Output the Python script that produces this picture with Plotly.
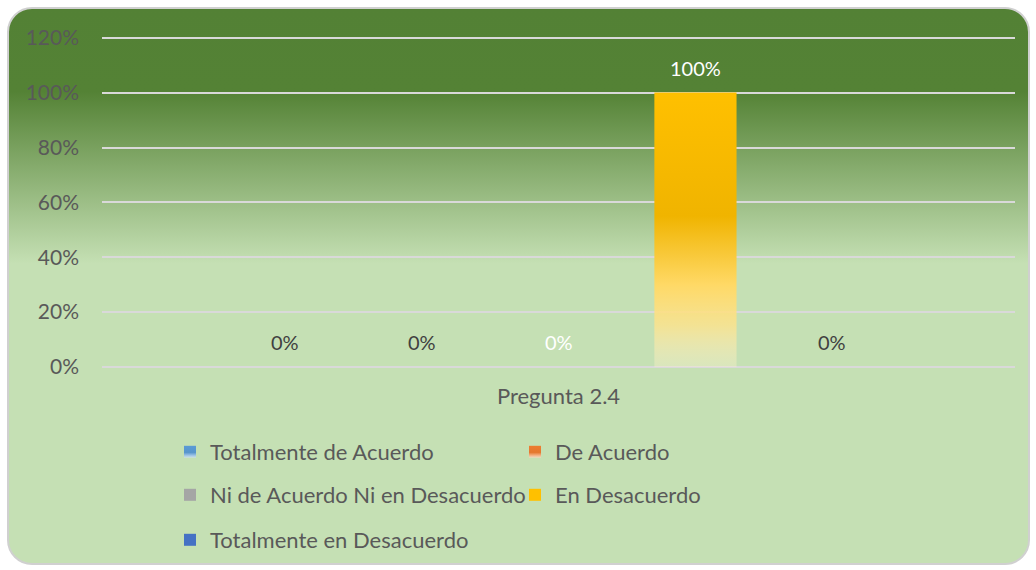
import base64
import json
import plotly.graph_objects as go

# Chart data
categories = ["Pregunta 2.4"]
series_names = [
    "Totalmente de Acuerdo",
    "De Acuerdo",
    "Ni de Acuerdo Ni en Desacuerdo",
    "En Desacuerdo",
    "Totalmente en Desacuerdo",
]
series_values = [[0.0], [0.0], [0.0], [1.0], [0.0]]
y_ticks = [0, 0.2, 0.4, 0.6, 0.8, 1.0, 1.2]

# Styling
series_colors = ["#5B9BD5", "#ED7D31", "#A5A5A5", "#FFC000", "#4472C4"]
label_colors = ["#404040", "#404040", "#FFFFFF", "#FFFFFF", "#404040"]
legend_ids = ["legend", "legend", "legend2", "legend2", "legend3"]
FONT = "Lato"
TEXT = "#595959"

W, H = 1036, 570
ML, MR, MT, MB = 102, 21, 35, 203
PW, PH = W - ML - MR, H - MT - MB
Y_TOP = 1.21
BARGAP, GROUPGAP = 0.25, 0.4

fig = go.Figure()
for name, vals, col, lg in zip(series_names, series_values, series_colors, legend_ids):
    fig.add_trace(go.Bar(
        x=categories,
        y=vals,
        name=name,
        marker=dict(color=col, line=dict(width=0)),
        legend=lg,
        hoverinfo="skip",
    ))

# data labels sit above each bar of the group (offset from the category centre)
n = len(series_names)
slot = (1 - BARGAP) / n
for k, (vals, lcol) in enumerate(zip(series_values, label_colors)):
    for ci, v in enumerate(vals):
        fig.add_annotation(
            x=ci + (k - (n - 1) / 2) * slot,
            y=v,
            xref="x",
            yref="y",
            text=f"{v:.0%}",
            showarrow=False,
            yanchor="middle",
            yshift=25,
            font=dict(family=FONT, size=20, color=lcol),
        )

# rounded background card with vertical green gradient
bg_svg = f"""<svg xmlns="http://www.w3.org/2000/svg" width="{W}" height="{H}" viewBox="0 0 {W} {H}">
<defs><linearGradient id="g" x1="0" y1="0" x2="0" y2="1">
<stop offset="0" stop-color="#538135"/>
<stop offset="0.15" stop-color="#548235"/>
<stop offset="0.46" stop-color="#C5E0B4"/>
<stop offset="1" stop-color="#C5E0B4"/>
</linearGradient></defs>
<rect x="8" y="8" width="1021" height="556" rx="24" ry="24" fill="url(#g)" stroke="#D0D0D0" stroke-width="2"/>
</svg>"""
bg_src = "data:image/svg+xml;base64," + base64.b64encode(bg_svg.encode()).decode()

legend_common = dict(
    orientation="h",
    xref="container",
    yref="container",
    xanchor="left",
    yanchor="middle",
    entrywidth=300,
    entrywidthmode="pixels",
    bgcolor="rgba(0,0,0,0)",
    font=dict(family=FONT, size=22, color=TEXT),
    traceorder="normal",
)

fig.update_layout(
    width=W,
    height=H,
    margin=dict(l=ML, r=MR, t=MT, b=MB, pad=0),
    paper_bgcolor="white",
    plot_bgcolor="rgba(0,0,0,0)",
    font=dict(family=FONT, size=20, color=TEXT),
    barmode="group",
    bargap=BARGAP,
    bargroupgap=GROUPGAP,
    showlegend=True,
    legend=dict(legend_common, x=170 / W, y=1 - 452 / H),
    legend2=dict(legend_common, x=170 / W, y=1 - 495 / H),
    legend3=dict(legend_common, x=170 / W, y=1 - 540 / H),
    xaxis=dict(
        showgrid=False,
        showline=False,
        zeroline=False,
        ticks="outside",
        ticklen=10,
        tickcolor="rgba(0,0,0,0)",
        tickfont=dict(family=FONT, size=22, color=TEXT),
    ),
    yaxis=dict(
        range=[0, Y_TOP],
        tickvals=y_ticks,
        tickformat=".0%",
        showgrid=True,
        gridcolor="#D9D9D9",
        gridwidth=2,
        zeroline=True,
        zerolinecolor="#D9D9D9",
        zerolinewidth=2,
        showline=False,
        ticklabelstandoff=22,
        tickfont=dict(family=FONT, size=21, color=TEXT),
    ),
    images=[dict(
        source=bg_src,
        xref="paper",
        yref="paper",
        x=-ML / PW,
        y=1 + MT / PH,
        sizex=W / PW,
        sizey=H / PH,
        xanchor="left",
        yanchor="top",
        sizing="stretch",
        layer="below",
    )],
)


# Excel-like light gradient on bars and legend keys
def mix(c, t):
    r, g, b = int(c[1:3], 16), int(c[3:5], 16), int(c[5:7], 16)
    r, g, b = (round(v + (255 - v) * t) for v in (r, g, b))
    return f"#{r:02X}{g:02X}{b:02X}"


def dark(c, t):
    r, g, b = int(c[1:3], 16), int(c[3:5], 16), int(c[5:7], 16)
    r, g, b = (round(v * (1 - t)) for v in (r, g, b))
    return f"#{r:02X}{g:02X}{b:02X}"


bar_grads = []
key_grads = []
for c in series_colors:
    bar_grads.append([
        [0, c, 1],
        [0.45, dark(c, 0.06), 1],
        [0.7, mix(c, 0.4), 1],
        [0.85, mix(c, 0.55), 0.8],
        [1, mix(c, 0.8), 0.35],
    ])
    key_grads.append([
        [0, c, 1],
        [0.55, dark(c, 0.04), 1],
        [0.8, mix(c, 0.4), 1],
        [1, mix(c, 0.7), 0.7],
    ])

post = """
(function(){
document.body.style.margin = '0';
var gd = document.getElementById('{plot_id}');
var NS = 'http://www.w3.org/2000/svg';
var barGrads = %s;
var keyGrads = %s;
var names = %s;
function addGrad(defs, id, st){
  if (document.getElementById(id)) return;
  var lg = document.createElementNS(NS, 'linearGradient');
  lg.setAttribute('id', id);
  lg.setAttribute('x1', '0'); lg.setAttribute('y1', '0');
  lg.setAttribute('x2', '0'); lg.setAttribute('y2', '1');
  st.forEach(function(s){
    var e = document.createElementNS(NS, 'stop');
    e.setAttribute('offset', s[0]);
    e.setAttribute('stop-color', s[1]);
    e.setAttribute('stop-opacity', s[2]);
    lg.appendChild(e);
  });
  defs.appendChild(lg);
}
function paint(){
  var defs = gd.querySelector('svg.main-svg defs');
  if (!defs) return;
  barGrads.forEach(function(st, i){ addGrad(defs, 'bargrad' + i, st); });
  keyGrads.forEach(function(st, i){ addGrad(defs, 'keygrad' + i, st); });
  gd.querySelectorAll('.barlayer .trace').forEach(function(t, i){
    t.querySelectorAll('.point path').forEach(function(p){ p.style.fill = 'url(#bargrad' + i + ')'; });
  });
  gd.querySelectorAll('.traces').forEach(function(t){
    var tx = t.querySelector('.legendtext');
    if (!tx) return;
    var i = names.indexOf(tx.textContent);
    if (i < 0) return;
    t.querySelectorAll('.legendpoints path').forEach(function(p){
      p.style.fill = 'url(#keygrad' + i + ')';
    });
  });
}
paint();
gd.on && gd.on('plotly_afterplot', paint);
setTimeout(paint, 50);
})();
""" % (json.dumps(bar_grads), json.dumps(key_grads), json.dumps(series_names))

fig.write_html("out.html", post_script=post, config={"displayModeBar": False})
